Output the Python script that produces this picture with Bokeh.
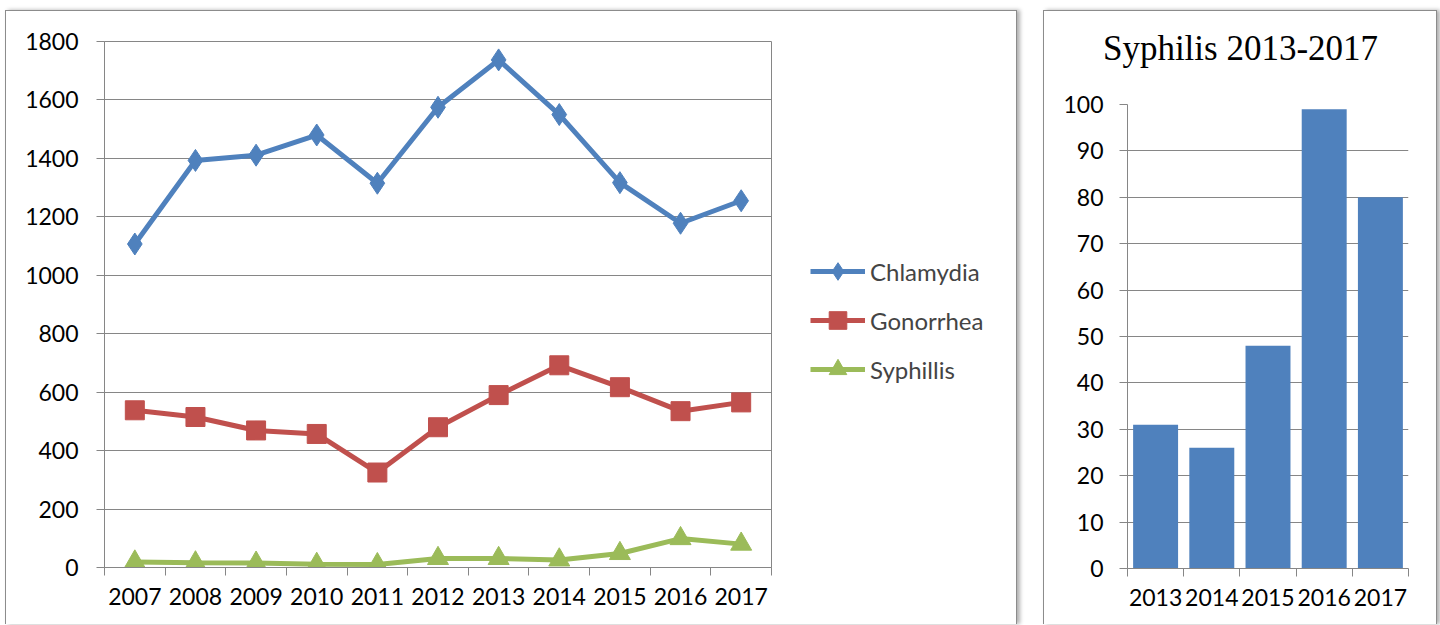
from bokeh.plotting import figure
from bokeh.models import FixedTicker, Range1d, Legend, LegendItem, Label
from bokeh.embed import file_html
from bokeh.resources import INLINE

years = ["2007", "2008", "2009", "2010", "2011", "2012", "2013", "2014", "2015", "2016", "2017"]
chlamydia = [1107, 1393, 1411, 1480, 1315, 1575, 1737, 1550, 1317, 1178, 1255]
gonorrhea = [538, 515, 469, 457, 325, 480, 590, 692, 617, 535, 565]
syphilis = [19, 16, 15, 11, 10, 31, 31, 26, 48, 99, 80]
left_y_ticks = [0, 200, 400, 600, 800, 1000, 1200, 1400, 1600, 1800]
series_names = ["Chlamydia", "Gonorrhea", "Syphillis"]

bar_years = ["2013", "2014", "2015", "2016", "2017"]
bar_values = [31, 26, 48, 99, 80]
right_y_ticks = [0, 10, 20, 30, 40, 50, 60, 70, 80, 90, 100]
right_title = "Syphilis 2013-2017"

GREY = "#868686"
TICK_FONT = "Lato"
H = 614
COLORS = ["#4F81BD", "#C0504D", "#9BBB59"]
MARKERS = ["diamond", "square", "triangle"]
SIZES = [22, 19, 21]


def place(left, top, border=True):
    st = {"position": "absolute", "left": f"{left}px", "top": f"{top}px"}
    if border:
        st.update({"border": "1px solid #8c8c8c", "border-bottom": "none",
                   "box-shadow": "3px 0px 4px #b0b0b0", "box-sizing": "border-box"})
    return st


def bare_canvas(w, h, left, top):
    p = figure(width=w, height=h, x_range=Range1d(0, w), y_range=Range1d(0, h),
               output_backend="svg", toolbar_location=None, x_axis_location=None,
               y_axis_location=None, min_border=0)
    p.styles = place(left, top, border=False)
    p.grid.visible = False
    p.outline_line_color = None
    p.background_fill_alpha = 0
    p.border_fill_alpha = 0
    return p


def style_axes(p, fs="23px"):
    for ax in (p.xaxis[0], p.yaxis[0]):
        ax.axis_line_color = GREY
        ax.major_label_text_font = TICK_FONT
        ax.major_label_text_font_size = fs
        ax.major_label_text_color = "#000000"
    p.xaxis[0].major_tick_line_color = None
    p.xaxis[0].minor_tick_line_color = GREY
    p.xaxis[0].minor_tick_out = 8
    p.xaxis[0].minor_tick_in = 0
    p.xaxis[0].major_label_standoff = 12
    p.yaxis[0].major_tick_line_color = GREY
    p.yaxis[0].major_tick_out = 8
    p.yaxis[0].major_tick_in = 0
    p.yaxis[0].minor_tick_line_color = None
    p.xgrid.visible = False
    p.ygrid.grid_line_color = GREY
    p.ygrid.grid_line_width = 1


def draw_series(p, xs):
    out = []
    for vals, col, mk, sz in zip([chlamydia, gonorrhea, syphilis], COLORS, MARKERS, SIZES):
        ln = p.line(xs, vals, line_color=col, line_width=5)
        sc = p.scatter(xs, vals, marker=mk, size=sz, fill_color=col, line_color=col)
        out.append([ln, sc])
    return out


# ---------------- left chart ----------------
xs = list(range(len(years)))
p1 = figure(width=1012, height=H, x_range=Range1d(-0.5, len(years) - 0.5),
            y_range=Range1d(0, 1800), output_backend="svg", toolbar_location=None,
            min_border_left=98, min_border_right=247, min_border_top=30,
            min_border_bottom=58)
p1.styles = place(5, 10)
p1.outline_line_color = GREY
p1.outline_line_width = 1
style_axes(p1)
p1.xaxis[0].ticker = FixedTicker(ticks=xs, minor_ticks=[i - 0.5 for i in range(len(years) + 1)])
p1.xaxis[0].major_label_overrides = {i: y for i, y in enumerate(years)}
p1.yaxis[0].ticker = FixedTicker(ticks=left_y_ticks)
p1.yaxis[0].major_label_standoff = 18
draw_series(p1, xs)

# ---------------- right chart ----------------
bxs = list(range(len(bar_years)))
p2 = figure(width=394, height=H, x_range=Range1d(-0.5, len(bar_years) - 0.5),
            y_range=Range1d(0, 100), output_backend="svg",
            toolbar_location=None, min_border_left=83, min_border_right=30,
            min_border_top=93, min_border_bottom=57)
p2.styles = place(1043, 10)
p2.outline_line_color = None
style_axes(p2)
p2.xaxis[0].ticker = FixedTicker(ticks=bxs, minor_ticks=[i - 0.5 for i in range(len(bar_years) + 1)])
p2.xaxis[0].major_label_overrides = {i: y for i, y in enumerate(bar_years)}
p2.yaxis[0].ticker = FixedTicker(ticks=right_y_ticks)
p2.yaxis[0].major_label_standoff = 16
p2.vbar(x=bxs, top=bar_values, width=0.8, fill_color="#4F81BD", line_color=None)

# ---------------- legend of the left chart (own transparent canvas) ----------------
p3 = figure(width=200, height=142, x_range=Range1d(-100, -99), y_range=Range1d(-100, -99),
            output_backend="svg", toolbar_location=None, x_axis_location=None,
            y_axis_location=None, min_border=0)
p3.styles = place(810, 249, border=False)
p3.grid.visible = False
p3.outline_line_color = None
p3.background_fill_alpha = 0
p3.border_fill_alpha = 0
legend_renderers = draw_series(p3, xs)
legend = Legend(items=[LegendItem(label=n, renderers=r) for n, r in zip(series_names, legend_renderers)],
                location="top_left", glyph_width=55, glyph_height=44, label_height=44,
                spacing=5, padding=0, margin=0, label_standoff=5,
                label_text_font=TICK_FONT, label_text_font_size="24px",
                border_line_color=None, background_fill_alpha=0)
p3.add_layout(legend)

# ---------------- title of the right chart (own transparent canvas) ----------------
p4 = bare_canvas(320, 60, 1080, 20)
p4.add_layout(Label(x=160, y=32, text=right_title, text_align="center",
                    text_baseline="alphabetic", text_font="Liberation Serif",
                    text_font_size="35px", text_color="#000000"))

open("out.html", "w").write(file_html([p1, p2, p3, p4], INLINE))
